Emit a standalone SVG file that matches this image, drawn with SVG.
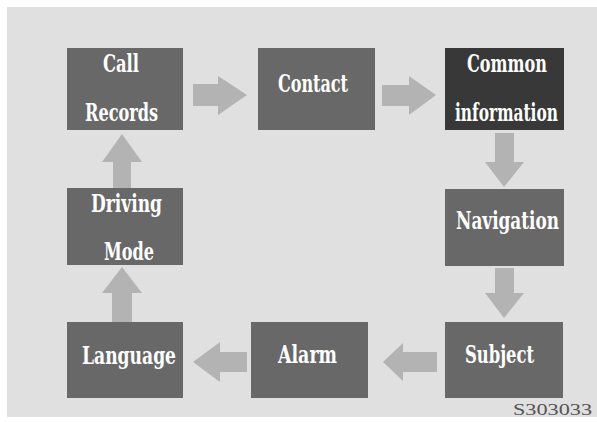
<svg xmlns="http://www.w3.org/2000/svg" width="597" height="422" viewBox="0 0 597 422">
<style>
.node{fill:#686868}
.dark{fill:#383838}
.lbl{fill:#ffffff;font-family:"DejaVu Serif Condensed","DejaVu Serif",serif;font-weight:bold;font-size:25px;font-stretch:condensed}
.arr{fill:#b3b3b3}
.code{fill:#555555;font-family:"Liberation Serif",serif;font-size:17px}
</style>
<rect x="0" y="0" width="597" height="422" fill="#ffffff"/>
<rect x="7" y="7" width="590" height="410" fill="#e0e0e0"/>
<g id="connectors">
<polygon class="arr" points="193,84 218,84 218,76 247,95 218,115 218,106 193,106"/>
<polygon class="arr" points="382,85 409,85 409,76 436,95 409,115 409,106 382,106"/>
<polygon class="arr" points="495,133 514,133 514,162 524,162 504,187 485,162 495,162"/>
<polygon class="arr" points="495,268 514,268 514,293 524,293 504,318 485,293 495,293"/>
<polygon class="arr" points="437,352 403,352 403,343 383,362 403,381 403,372 437,372"/>
<polygon class="arr" points="247,352 220,352 220,342 193,362 220,382 220,372 247,372"/>
<polygon class="arr" points="112,322 132,322 132,293 142,293 122,267 102,293 112,293"/>
<polygon class="arr" points="113,188 131,188 131,162 142,162 122,134 102,162 113,162"/>
</g>
<g id="call-records">
<rect class="node" x="67" y="48" width="116" height="82"/>
<text class="lbl" x="103" y="72" textLength="36" lengthAdjust="spacingAndGlyphs">Call</text>
<text class="lbl" x="85" y="121" textLength="73" lengthAdjust="spacingAndGlyphs">Records</text>
</g>
<g id="contact">
<rect class="node" x="258" y="48" width="117" height="82"/>
<text class="lbl" x="278" y="92" textLength="70" lengthAdjust="spacingAndGlyphs">Contact</text>
</g>
<g id="common-information">
<rect class="dark" x="445" y="48" width="119" height="82"/>
<text class="lbl" x="467" y="72" textLength="80" lengthAdjust="spacingAndGlyphs">Common</text>
<text class="lbl" x="455" y="121" textLength="103" lengthAdjust="spacingAndGlyphs">information</text>
</g>
<g id="navigation">
<rect class="node" x="445" y="189" width="119" height="77"/>
<text class="lbl" x="456" y="229" textLength="103" lengthAdjust="spacingAndGlyphs">Navigation</text>
</g>
<g id="driving-mode">
<rect class="node" x="67" y="188" width="116" height="77"/>
<text class="lbl" x="91" y="212" textLength="71" lengthAdjust="spacingAndGlyphs">Driving</text>
<text class="lbl" x="104" y="260" textLength="50" lengthAdjust="spacingAndGlyphs">Mode</text>
</g>
<g id="language">
<rect class="node" x="67" y="322" width="116" height="76"/>
<text class="lbl" x="82" y="364" textLength="94" lengthAdjust="spacingAndGlyphs">Language</text>
</g>
<g id="alarm">
<rect class="node" x="251" y="322" width="117" height="76"/>
<text class="lbl" x="278" y="363" textLength="59" lengthAdjust="spacingAndGlyphs">Alarm</text>
</g>
<g id="subject">
<rect class="node" x="445" y="322" width="118" height="76"/>
<text class="lbl" x="465" y="363" textLength="69" lengthAdjust="spacingAndGlyphs">Subject</text>
</g>
<text class="code" x="513" y="415" textLength="79" lengthAdjust="spacingAndGlyphs">S303033</text>
</svg>
